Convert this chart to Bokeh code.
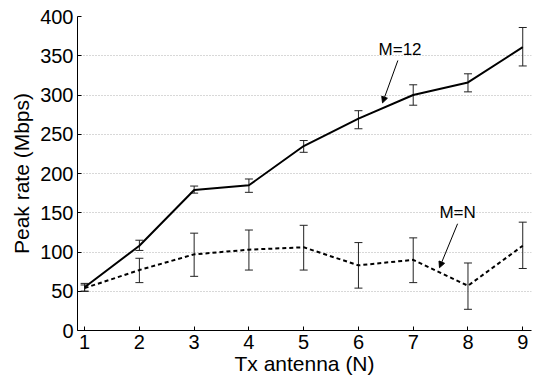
from bokeh.plotting import figure
from bokeh.models import ColumnDataSource, Whisker, TeeHead, Arrow, NormalHead, Label, FixedTicker
from bokeh.embed import file_html
from bokeh.resources import INLINE

antennas = [1, 2, 3, 4, 5, 6, 7, 8, 9]
m12_rate = [55, 108, 179, 185, 235, 270, 300, 316, 361]
m12_upper = [60, 115, 184, 193, 242, 280, 313, 327, 386]
m12_lower = [50, 102, 175, 176, 227, 257, 287, 304, 337]
mn_rate = [54, 77, 97, 103, 106, 83, 90, 57, 108]
mn_upper = [58, 92, 124, 128, 134, 112, 118, 86, 138]
mn_lower = [50, 61, 69, 77, 77, 54, 61, 27, 79]
y_ticks = [0, 50, 100, 150, 200, 250, 300, 350, 400]

FONT = "Liberation Sans"

p = figure(width=542, height=381, output_backend="svg", toolbar_location=None,
           x_range=(0.87, 9.16), y_range=(0, 400),
           min_border_left=77, min_border_right=11, min_border_top=16, min_border_bottom=51)
p.outline_line_color = None
p.background_fill_color = "white"
p.border_fill_color = "white"

src12 = ColumnDataSource(dict(x=antennas, y=m12_rate, up=m12_upper, lo=m12_lower))
srcn = ColumnDataSource(dict(x=antennas, y=mn_rate, up=mn_upper, lo=mn_lower))

p.line("x", "y", source=src12, line_color="black", line_width=2)
p.line("x", "y", source=srcn, line_color="black", line_width=2, line_dash="4 3")

for s in (src12, srcn):
    w = Whisker(base="x", upper="up", lower="lo", source=s,
                line_color="#222222", line_width=1,
                upper_head=TeeHead(size=8, line_color="#222222", line_width=1),
                lower_head=TeeHead(size=8, line_color="#222222", line_width=1))
    p.add_layout(w)

p.add_layout(Arrow(x_start=6.72, y_start=344, x_end=6.44, y_end=290,
                   line_color="black", line_width=1,
                   end=NormalHead(size=6, fill_color="black", line_color="black")))
p.add_layout(Label(x=6.76, y=346, text="M=12", text_align="center", text_baseline="bottom",
                   text_font=FONT, text_font_size="17px", text_color="black"))
p.add_layout(Arrow(x_start=7.81, y_start=136, x_end=7.48, y_end=80,
                   line_color="black", line_width=1,
                   end=NormalHead(size=6, fill_color="black", line_color="black")))
p.add_layout(Label(x=7.81, y=138, text="M=N", text_align="center", text_baseline="bottom",
                   text_font=FONT, text_font_size="17px", text_color="black"))

p.xaxis.ticker = FixedTicker(ticks=antennas)
p.yaxis.ticker = FixedTicker(ticks=y_ticks)
p.xaxis.axis_label = "Tx antenna (N)"
p.yaxis.axis_label = "Peak rate (Mbps)"
for ax in (p.xaxis, p.yaxis):
    ax.axis_label_text_font = FONT
    ax.axis_label_text_font_size = "21px"
    ax.axis_label_text_font_style = "normal"
    ax.major_label_text_font = FONT
    ax.major_label_text_font_size = "20px"
    ax.axis_line_color = "black"
    ax.major_tick_line_color = "black"
    ax.major_tick_in = 4
    ax.major_tick_out = 0
    ax.minor_tick_line_color = None
    ax.major_label_text_color = "black"
    ax.axis_label_text_color = "black"
p.xaxis.major_label_standoff = 4
p.yaxis.major_label_standoff = 4
p.xaxis.axis_label_standoff = 0
p.yaxis.axis_label_standoff = 4

p.xgrid.grid_line_color = None
p.ygrid.grid_line_color = "#b0b0b0"
p.ygrid.grid_line_dash = "1 2"
p.ygrid.grid_line_width = 1

open("out.html", "w").write(file_html(p, INLINE))
